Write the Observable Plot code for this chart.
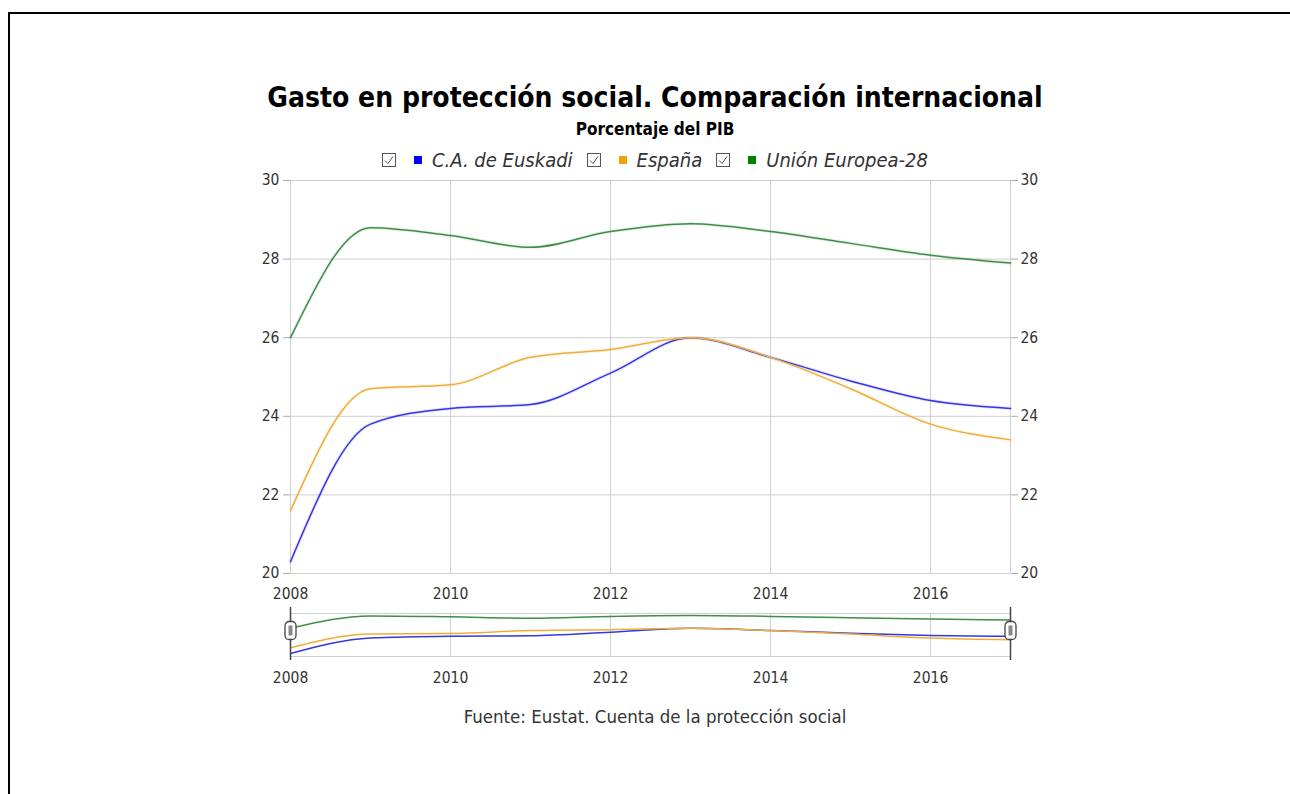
<!DOCTYPE html>
<html><head><meta charset="utf-8">
<script src="https://cdn.jsdelivr.net/npm/d3@7"></script>
<script src="https://cdn.jsdelivr.net/npm/@observablehq/plot@0.6"></script>
<style>
html,body{margin:0;padding:0;background:#fff;overflow:hidden;width:1290px;height:794px;}
body{position:relative;font-family:"DejaVu Sans Condensed","DejaVu Sans",sans-serif;}
#frame{position:absolute;left:8px;top:12px;width:1400px;height:900px;border-left:2px solid #000;border-top:2px solid #000;box-sizing:border-box;}
.t{position:absolute;left:0;width:1310px;text-align:center;line-height:1;white-space:nowrap;}
#title{top:84px;font-weight:bold;font-size:28px;color:#000;}
#subtitle{top:121px;font-weight:bold;font-size:17px;color:#000;}
#legend{top:150px;font-size:20px;color:#333;display:flex;justify-content:center;align-items:center;}
#legend .item{display:flex;align-items:center;margin:0 7px;}
#legend .sq{display:inline-block;width:8px;height:8px;margin:0 10px 0 18px;}
#legend .lab{font-style:italic;}
#caption{top:708px;font-size:18.5px;color:#333;}
#main,#nav{position:absolute;left:0;}
#main{top:170px;}
#nav{top:600px;}
</style></head>
<body>
<div id="frame"></div>
<div class="t" id="title">Gasto en protección social. Comparación internacional</div>
<div class="t" id="subtitle">Porcentaje del PIB</div>
<div class="t" id="legend"></div>
<div id="main"></div>
<div id="nav"></div>
<div class="t" id="caption">Fuente: Eustat. Cuenta de la protección social</div>
<script>
const years = [2008, 2009, 2010, 2011, 2012, 2013, 2014, 2015, 2016, 2017];
const euskadi = [20.3, 23.8, 24.2, 24.3, 25.1, 26.0, 25.5, 24.9, 24.4, 24.2];
const espana  = [21.6, 24.7, 24.8, 25.5, 25.7, 26.0, 25.5, 24.7, 23.8, 23.4];
const ue28    = [26.0, 28.8, 28.6, 28.3, 28.7, 28.9, 28.7, 28.4, 28.1, 27.9];
const seriesNames = ["C.A. de Euskadi", "España", "Unión Europea-28"];
const legendColors = ["#0000ff", "#f0a30a", "#008000"];
const lineColors = ["#3636e4", "#f0ad38", "#3e8e46"];
const xTicks = [2008, 2010, 2012, 2014, 2016];
const yTicks = [20, 22, 24, 26, 28, 30];

const seriesValues = [euskadi, espana, ue28];
const data = seriesNames.flatMap((s, i) => years.map((yr, j) => ({serie: s, year: yr, value: seriesValues[i][j]})));
const FONT = '"DejaVu Sans Condensed","DejaVu Sans",sans-serif';

// legend
const legend = document.getElementById("legend");
seriesNames.forEach((s, i) => {
  const it = document.createElement("span");
  it.className = "item";
  it.innerHTML = `<svg width="14" height="14" viewBox="0 0 14 14"><rect x="0.5" y="0.5" width="13" height="13" fill="#fff" stroke="#555"/><path d="M3 7.5 L6 10.5 L11 3.5" fill="none" stroke="#555" stroke-width="1"/></svg><span class="sq" style="background:${legendColors[i]}"></span><span class="lab">${s}</span>`;
  legend.appendChild(it);
});

const gridColor = "#cfcfcf";
const main = Plot.plot({
  width: 1290, height: 433,
  marginLeft: 290, marginRight: 280, marginTop: 10, marginBottom: 30,
  x: {domain: [2008, 2017], label: null},
  y: {domain: [20, 30], label: null},
  color: {domain: seriesNames, range: lineColors},
  style: {fontFamily: FONT, fontSize: "15.5px", color: "#333", background: "transparent", overflow: "visible"},
  marks: [
    Plot.gridY(yTicks, {stroke: gridColor, strokeOpacity: 1}),
    Plot.gridX(xTicks, {stroke: gridColor, strokeOpacity: 1}),
    Plot.ruleX([2017], {stroke: gridColor}),
    Plot.axisY(yTicks, {anchor: "left", tickSize: 7, tickPadding: 4, stroke: "#aaa", fill: "#333", label: null}),
    Plot.axisY(yTicks, {anchor: "right", tickSize: 7, tickPadding: 3, stroke: "#aaa", fill: "#333", label: null}),
    Plot.axisX(xTicks, {anchor: "bottom", tickSize: 0, tickPadding: 14, fill: "#333", label: null, tickFormat: d => String(d)}),
    Plot.lineY(data, {x: "year", y: "value", z: "serie", stroke: "serie", curve: "monotone-x", strokeWidth: 3.5, strokeOpacity: 0.12}),
    Plot.lineY(data, {x: "year", y: "value", z: "serie", stroke: "serie", curve: "monotone-x", strokeWidth: 1.5})
  ]
});
document.getElementById("main").appendChild(main);

const allVals = [...euskadi, ...espana, ...ue28];
const yMin = d3.min(allVals), yMax = d3.max(allVals);
function roundRect(ctx, x, y, w, h, r) {
  ctx.moveTo(x + r, y);
  ctx.lineTo(x + w - r, y); ctx.arcTo(x + w, y, x + w, y + r, r);
  ctx.lineTo(x + w, y + h - r); ctx.arcTo(x + w, y + h, x + w - r, y + h, r);
  ctx.lineTo(x + r, y + h); ctx.arcTo(x, y + h, x, y + h - r, r);
  ctx.lineTo(x, y + r); ctx.arcTo(x, y, x + r, y, r);
  ctx.closePath();
}
const handleSym = {draw(ctx) { roundRect(ctx, -5.5, -9, 11, 18, 4); }};
const gripSym = {draw(ctx) { ctx.rect(-2, -5, 4, 10); }};
const nav = Plot.plot({
  width: 1290, height: 95,
  marginLeft: 290, marginRight: 280, marginTop: 15, marginBottom: 42,
  x: {domain: [2008, 2017], label: null},
  y: {domain: [yMin, yMax], label: null, axis: null},
  color: {domain: seriesNames, range: lineColors},
  style: {fontFamily: FONT, fontSize: "15.5px", color: "#333", background: "transparent", overflow: "visible"},
  marks: [
    Plot.gridX(xTicks, {stroke: gridColor, strokeOpacity: 1, insetTop: -2, insetBottom: -3}),
    Plot.ruleY([yMax], {stroke: gridColor, dy: -2}),
    Plot.ruleY([yMin], {stroke: gridColor, dy: 3}),
    Plot.axisX(xTicks, {anchor: "bottom", tickSize: 0, tickPadding: 18, fill: "#333", label: null, tickFormat: d => String(d)}),
    Plot.lineY(data, {x: "year", y: "value", z: "serie", stroke: "serie", curve: "monotone-x", strokeWidth: 1.5}),
    Plot.ruleX([2008, 2017], {stroke: "#444", strokeWidth: 1.5, insetTop: -8, insetBottom: -7}),
    Plot.dot([2008, 2017], {x: d => d, frameAnchor: "middle", dy: -4, symbol: handleSym, fill: "#fff", stroke: "#444", strokeWidth: 1.3}),
    Plot.dot([2008, 2017], {x: d => d, frameAnchor: "middle", dy: -4, symbol: gripSym, fill: "#888", stroke: "none"})
  ]
});
document.getElementById("nav").appendChild(nav);
</script>
</body></html>
